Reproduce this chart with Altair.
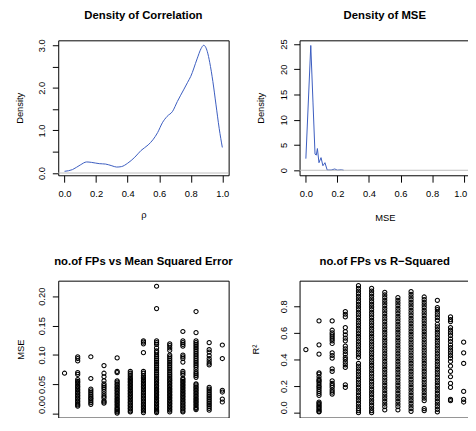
import altair as alt
import pandas as pd

# ---------------- data ----------------
titles = ["Density of Correlation", "Density of MSE",
          "no.of FPs vs Mean Squared Error", "no.of FPs vs R\u2212Squared"]

corr_x = [0.0, 0.05, 0.1, 0.14, 0.17, 0.22, 0.26, 0.30, 0.33, 0.36, 0.40, 0.445,
          0.485, 0.53, 0.56, 0.59, 0.62, 0.65, 0.685, 0.715, 0.757, 0.78, 0.80,
          0.84, 0.865, 0.882, 0.905, 0.92, 0.94, 0.96, 0.98, 1.0]
corr_y = [0.04, 0.08, 0.19, 0.26, 0.25, 0.22, 0.21, 0.17, 0.14, 0.15, 0.23, 0.37,
          0.53, 0.66, 0.78, 0.95, 1.18, 1.33, 1.45, 1.68, 1.97, 2.13, 2.27,
          2.68, 2.92, 3.0, 2.85, 2.6, 2.15, 1.6, 1.05, 0.6]

mse_x = [0.0, 0.031, 0.045, 0.058, 0.066, 0.073, 0.083, 0.096, 0.108, 0.121,
         0.135, 0.16, 0.183, 0.2, 0.225, 0.24]
mse_y = [2.3, 24.7, 13.5, 3.2, 3.0, 4.3, 1.5, 2.5, 0.9, 1.5,
         0.05, 0.05, 0.25, 0.03, 0.1, 0.0]

fp_values = [0, 1, 2, 3, 4, 5, 6, 7, 8, 9, 10, 11, 12]

mse_fp0 = [0.069]
mse_fp1 = [0.097, 0.094, 0.090, 0.070, 0.067, 0.058, 0.055, 0.053, 0.050, 0.047, 0.045, 0.042,
           0.040, 0.037, 0.035, 0.032, 0.030, 0.027, 0.025, 0.022, 0.020, 0.017, 0.015, 0.013]
mse_fp2 = [0.097, 0.060, 0.042, 0.039, 0.036, 0.033, 0.030, 0.027, 0.025, 0.022, 0.019, 0.016]
mse_fp3 = [0.082, 0.069, 0.063, 0.056, 0.051, 0.048, 0.045, 0.042, 0.038, 0.034, 0.030, 0.027,
           0.022, 0.020, 0.018]
mse_fp4 = [0.095, 0.072, 0.070, 0.056, 0.054, 0.051, 0.049, 0.046, 0.044, 0.041, 0.039, 0.036,
           0.034, 0.031, 0.029, 0.026, 0.024, 0.021, 0.019, 0.016, 0.014, 0.011, 0.009, 0.007,
           0.005, 0.003, 0.001]
mse_fp5 = [0.072, 0.069, 0.066, 0.063, 0.060, 0.058, 0.055, 0.053, 0.050, 0.048, 0.045, 0.043,
           0.040, 0.038, 0.035, 0.033, 0.030, 0.028, 0.025, 0.023, 0.020, 0.018, 0.015, 0.013,
           0.010, 0.008, 0.005, 0.003]
mse_fp6 = [0.124, 0.122, 0.119, 0.104, 0.072, 0.069, 0.065, 0.062, 0.060, 0.057, 0.055, 0.052,
           0.050, 0.047, 0.045, 0.042, 0.040, 0.037, 0.035, 0.032, 0.030, 0.027, 0.025, 0.022,
           0.020, 0.017, 0.015, 0.012, 0.010, 0.007, 0.005, 0.002]
mse_fp7 = [0.217, 0.179, 0.124, 0.121, 0.118, 0.112, 0.107, 0.104, 0.100, 0.097, 0.094, 0.091,
           0.088, 0.085, 0.082, 0.079, 0.076, 0.073, 0.070, 0.067, 0.064, 0.061, 0.058, 0.056,
           0.053, 0.051, 0.048, 0.046, 0.043, 0.041, 0.038, 0.036, 0.033, 0.031, 0.028, 0.026,
           0.023, 0.021, 0.018, 0.016, 0.013, 0.011, 0.008, 0.006, 0.004, 0.002]
mse_fp8 = [0.119, 0.116, 0.112, 0.108, 0.100, 0.097, 0.094, 0.091, 0.088, 0.085, 0.082, 0.079,
           0.076, 0.073, 0.070, 0.067, 0.064, 0.061, 0.058, 0.056, 0.053, 0.051, 0.048, 0.046,
           0.043, 0.041, 0.038, 0.036, 0.033, 0.031, 0.028, 0.026, 0.023, 0.021, 0.018, 0.016,
           0.013, 0.011, 0.008, 0.006, 0.003]
mse_fp9 = [0.140, 0.124, 0.121, 0.118, 0.115, 0.100, 0.097, 0.094, 0.088, 0.072, 0.069, 0.066,
           0.060, 0.058, 0.055, 0.053, 0.050, 0.048, 0.045, 0.043, 0.040, 0.038, 0.035, 0.033,
           0.030, 0.028, 0.025, 0.023, 0.020, 0.018, 0.015, 0.013, 0.010, 0.008, 0.005, 0.003]
mse_fp10 = [0.174, 0.138, 0.124, 0.121, 0.118, 0.115, 0.112, 0.109, 0.106, 0.103, 0.100, 0.097,
            0.094, 0.091, 0.088, 0.085, 0.082, 0.079, 0.075, 0.071, 0.068, 0.065, 0.062, 0.051,
            0.049, 0.046, 0.044, 0.041, 0.039, 0.036, 0.034, 0.031, 0.029, 0.026, 0.024, 0.021,
            0.019, 0.016, 0.014, 0.011, 0.009, 0.007]
mse_fp11 = [0.121, 0.109, 0.105, 0.099, 0.094, 0.090, 0.086, 0.083, 0.045, 0.042, 0.039, 0.036,
            0.033, 0.030, 0.027, 0.024, 0.021, 0.018, 0.015, 0.012, 0.009, 0.006]
mse_fp12 = [0.117, 0.094, 0.040, 0.037, 0.025, 0.020]

r2_fp0 = [0.474]
r2_fp1 = [0.69, 0.51, 0.44, 0.30, 0.29, 0.27, 0.25, 0.24, 0.23, 0.215, 0.20, 0.19, 0.175, 0.16,
          0.145, 0.13, 0.08, 0.07, 0.06, 0.05, 0.04, 0.03, 0.02, 0.01, 0.005]
r2_fp2 = [0.69, 0.62, 0.60, 0.585, 0.57, 0.555, 0.54, 0.52, 0.45, 0.43, 0.41, 0.33, 0.31, 0.24,
          0.22, 0.205, 0.19, 0.17, 0.155, 0.14]
r2_fp3 = [0.76, 0.74, 0.72, 0.64, 0.61, 0.585, 0.56, 0.54, 0.50, 0.48, 0.46, 0.44, 0.415, 0.40,
          0.38, 0.36, 0.34, 0.21, 0.19]
r2_fp4 = [0.955, 0.935, 0.915, 0.895, 0.875, 0.855, 0.835, 0.815, 0.795, 0.775, 0.755, 0.735,
          0.715, 0.695, 0.675, 0.655, 0.635, 0.615, 0.595, 0.575, 0.555, 0.535, 0.515, 0.495,
          0.475, 0.455, 0.435, 0.415, 0.37, 0.35, 0.33, 0.31, 0.29, 0.27, 0.25, 0.23, 0.21,
          0.19, 0.17, 0.15, 0.13, 0.11, 0.09, 0.07, 0.05, 0.03, 0.015, 0.0]
r2_fp5 = [0.935, 0.915, 0.895, 0.875, 0.855, 0.835, 0.815, 0.795, 0.775, 0.755, 0.735, 0.715,
          0.695, 0.675, 0.655, 0.635, 0.615, 0.595, 0.575, 0.555, 0.535, 0.515, 0.495, 0.475,
          0.455, 0.435, 0.415, 0.395, 0.375, 0.355, 0.335, 0.315, 0.295, 0.275, 0.255, 0.235,
          0.215, 0.195, 0.175, 0.155, 0.135, 0.115, 0.095, 0.075, 0.055, 0.035, 0.015, 0.0]
r2_fp6 = [0.905, 0.885, 0.865, 0.845, 0.825, 0.805, 0.785, 0.765, 0.745, 0.725, 0.705, 0.685,
          0.665, 0.645, 0.625, 0.605, 0.585, 0.565, 0.545, 0.525, 0.505, 0.485, 0.465, 0.445,
          0.425, 0.405, 0.385, 0.365, 0.345, 0.325, 0.305, 0.285, 0.265, 0.245, 0.225, 0.205,
          0.185, 0.165, 0.145, 0.125, 0.105, 0.085, 0.065, 0.045, 0.02]
r2_fp7 = [0.865, 0.845, 0.825, 0.805, 0.785, 0.765, 0.745, 0.725, 0.705, 0.685, 0.665, 0.645,
          0.625, 0.605, 0.585, 0.565, 0.545, 0.525, 0.505, 0.485, 0.465, 0.445, 0.425, 0.405,
          0.385, 0.365, 0.345, 0.325, 0.305, 0.285, 0.265, 0.245, 0.225, 0.205, 0.185, 0.165,
          0.145, 0.125, 0.105, 0.085, 0.065, 0.045, 0.02]
r2_fp8 = [0.91, 0.89, 0.87, 0.85, 0.83, 0.81, 0.79, 0.77, 0.75, 0.73, 0.71, 0.69, 0.67, 0.65,
          0.63, 0.61, 0.59, 0.57, 0.55, 0.53, 0.51, 0.49, 0.47, 0.45, 0.43, 0.41, 0.39, 0.37,
          0.35, 0.33, 0.31, 0.29, 0.27, 0.25, 0.23, 0.21, 0.19, 0.17, 0.15, 0.13, 0.11, 0.09,
          0.07, 0.05, 0.03, 0.01]
r2_fp9 = [0.87, 0.85, 0.83, 0.81, 0.79, 0.77, 0.75, 0.73, 0.71, 0.69, 0.67, 0.65, 0.63, 0.61,
          0.59, 0.57, 0.55, 0.53, 0.51, 0.49, 0.47, 0.45, 0.43, 0.41, 0.39, 0.37, 0.35, 0.33,
          0.31, 0.29, 0.27, 0.25, 0.23, 0.21, 0.19, 0.17, 0.15, 0.13, 0.11, 0.09, 0.03, 0.015]
r2_fp10 = [0.845, 0.79, 0.775, 0.755, 0.735, 0.715, 0.695, 0.665, 0.645, 0.625, 0.605, 0.585,
           0.565, 0.545, 0.525, 0.505, 0.485, 0.465, 0.445, 0.425, 0.405, 0.385, 0.365, 0.345,
           0.325, 0.305, 0.285, 0.265, 0.245, 0.225, 0.205, 0.185, 0.165, 0.145, 0.125, 0.105,
           0.085, 0.065, 0.045, 0.025, 0.005]
r2_fp11 = [0.72, 0.70, 0.685, 0.64, 0.62, 0.60, 0.58, 0.555, 0.535, 0.51, 0.49, 0.47, 0.45,
           0.43, 0.41, 0.385, 0.35, 0.31, 0.27, 0.22, 0.19, 0.10, 0.09]
r2_fp12 = [0.53, 0.45, 0.37, 0.16, 0.10, 0.08]

mse_by_fp = [mse_fp0, mse_fp1, mse_fp2, mse_fp3, mse_fp4, mse_fp5, mse_fp6, mse_fp7,
             mse_fp8, mse_fp9, mse_fp10, mse_fp11, mse_fp12]
r2_by_fp = [r2_fp0, r2_fp1, r2_fp2, r2_fp3, r2_fp4, r2_fp5, r2_fp6, r2_fp7,
            r2_fp8, r2_fp9, r2_fp10, r2_fp11, r2_fp12]

# ---------------- tables ----------------
corr_df = pd.DataFrame({"rho": corr_x, "density": corr_y})
msed_df = pd.DataFrame({"mse": mse_x, "density": mse_y})
zero_df = pd.DataFrame({"density": [0.0]})
mse_pts = pd.DataFrame([(f, v) for f, vals in zip(fp_values, mse_by_fp) for v in vals],
                       columns=["fp", "mse"])
r2_pts = pd.DataFrame([(f, v) for f, vals in zip(fp_values, r2_by_fp) for v in vals],
                      columns=["fp", "r2"])

# ---------------- style ----------------
FONT = "Liberation Sans"
BLUE = "#3a5bbf"
W = 173
H_TOP = 137
H_BOT = 139

common = dict(domain=False, grid=False, ticks=True, tickColor="black", tickWidth=1,
              labelColor="black", labelFont=FONT, labelFontSize=9.5,
              titleFont=FONT, titleFontSize=9.5, titleFontWeight="normal", titleColor="black",
              labelFlush=False, labelOverlap=False)


def x_axis(values, fmt=None, title=None, title_y=0, labels=True, tick=7, end_shift=0):
    kw = dict(common, values=values, tickSize=tick, labels=labels, labelAlign="center",
              labelBaseline="alphabetic", labelPadding=14.8, labelAngle=0)
    if fmt:
        kw["format"] = fmt
    if end_shift:
        # keep the last label inside the visible page
        kw["labelOffset"] = {"condition": {"test": "datum.value == 1", "value": -end_shift},
                             "value": 0}
    if title:
        kw.update(title=title, titleX=W / 2, titleY=title_y, titleAlign="center",
                  titleBaseline="alphabetic", titleAngle=0)
    else:
        kw["title"] = None
    return alt.Axis(**kw)


def y_axis(values, title, title_x, height, fmt=None, expr=None, zero_lift=0):
    kw = dict(common, values=values, tickSize=6, labelAngle=270, labelAlign="center",
              labelBaseline="alphabetic", labelPadding=7.6, title=title, titleX=title_x,
              titleY=height / 2, titleAngle=270, titleAlign="center",
              titleBaseline="alphabetic")
    if fmt:
        kw["format"] = fmt
    if expr:
        kw["labelExpr"] = expr
    if zero_lift:
        # keep the lowest label inside the visible page
        kw["labelOffset"] = {"condition": {"test": "datum.value == 0", "value": -zero_lift},
                             "value": 0}
    return alt.Axis(**kw)


def ttl(text, offset):
    return alt.TitleParams(text=text, font=FONT, fontSize=11.5, fontWeight="bold",
                           color="black", anchor="middle", frame="group", offset=offset)


unit_ticks = [0, 0.2, 0.4, 0.6, 0.8, 1.0]
fp_ticks = [0, 2, 4, 6, 8, 10, 12]

# --- top left ---
x_tl = alt.X("rho:Q", scale=alt.Scale(domain=[-0.04, 1.04], nice=False, zero=False),
             axis=x_axis(unit_ticks, ".1f", "\u03c1", 42.7))
y_tl = alt.Y("density:Q", scale=alt.Scale(domain=[-0.053, 3.116], nice=False, zero=False),
             axis=y_axis([0, 0.5, 1, 1.5, 2, 2.5, 3], "Density", -36.6, H_TOP,
                         expr="datum.value % 1 == 0 ? format(datum.value, '.1f') : ''"))
tl = alt.layer(
    alt.Chart(corr_df).mark_line(color=BLUE, strokeWidth=1, interpolate="monotone").encode(x=x_tl, y=y_tl),
    alt.Chart(zero_df).mark_rule(color="#bebebe", strokeWidth=1).encode(y=y_tl),
).properties(width=W, height=H_TOP, title=ttl(titles[0], 17.2))

# --- top right ---
x_tr = alt.X("mse:Q", scale=alt.Scale(domain=[-0.04, 1.04], nice=False, zero=False),
             axis=x_axis(unit_ticks, ".1f", "MSE", 45.7, end_shift=3.5))
y_tr = alt.Y("density:Q", scale=alt.Scale(domain=[-0.99, 25.72], nice=False, zero=False),
             axis=y_axis([0, 5, 10, 15, 20, 25], "Density", -36.7, H_TOP, fmt="d"))
tr = alt.layer(
    alt.Chart(msed_df).mark_line(color=BLUE, strokeWidth=1).encode(x=x_tr, y=y_tr),
    alt.Chart(zero_df).mark_rule(color="#bebebe", strokeWidth=1).encode(y=y_tr),
).properties(width=W, height=H_TOP, title=ttl(titles[1], 17.2))

# --- bottom left ---
x_fp = alt.X("fp:Q", scale=alt.Scale(domain=[-0.48, 12.48], nice=False, zero=False),
             axis=x_axis(fp_ticks, labels=False, tick=10))
bl = alt.Chart(mse_pts).mark_point(shape="circle", filled=False, color="black", size=18,
                                    strokeWidth=1.05, opacity=1).encode(
    x=x_fp,
    y=alt.Y("mse:Q", scale=alt.Scale(domain=[-0.0065, 0.2265], nice=False, zero=False),
            axis=y_axis([0, 0.05, 0.10, 0.15, 0.20], "MSE", -35.1, H_BOT, fmt=".2f",
                        zero_lift=9.5)),
).properties(width=W, height=H_BOT, title=ttl(titles[2], 13.5))

# --- bottom right ---
br = alt.Chart(r2_pts).mark_point(shape="circle", filled=False, color="black", size=18,
                                   strokeWidth=1.05, opacity=1).encode(
    x=x_fp,
    y=alt.Y("r2:Q", scale=alt.Scale(domain=[-0.037, 0.9926], nice=False, zero=False),
            axis=y_axis([0, 0.2, 0.4, 0.6, 0.8], "R\u00b2", -41.2, H_BOT, fmt=".1f",
                        zero_lift=5.5)),
).properties(width=W, height=H_BOT, title=ttl(titles[3], 13.5))

# Plot-area origin placed by padding; the page shows 467 x 410 of the figure.
PAD_L = 51
PAD_T = 29.7
chart = alt.concat(tl, tr, bl, br, columns=2, spacing={"row": 107, "column": 72},
                   bounds="flush").configure_view(
    stroke="black", strokeWidth=1
).properties(
    autosize=alt.AutoSizeParams(type="none"),
    padding={"left": PAD_L, "top": PAD_T, "right": 467 - PAD_L, "bottom": 410 - PAD_T},
    background="white",
)

chart.save("out.html", embed_options={"renderer": "svg", "actions": False})
